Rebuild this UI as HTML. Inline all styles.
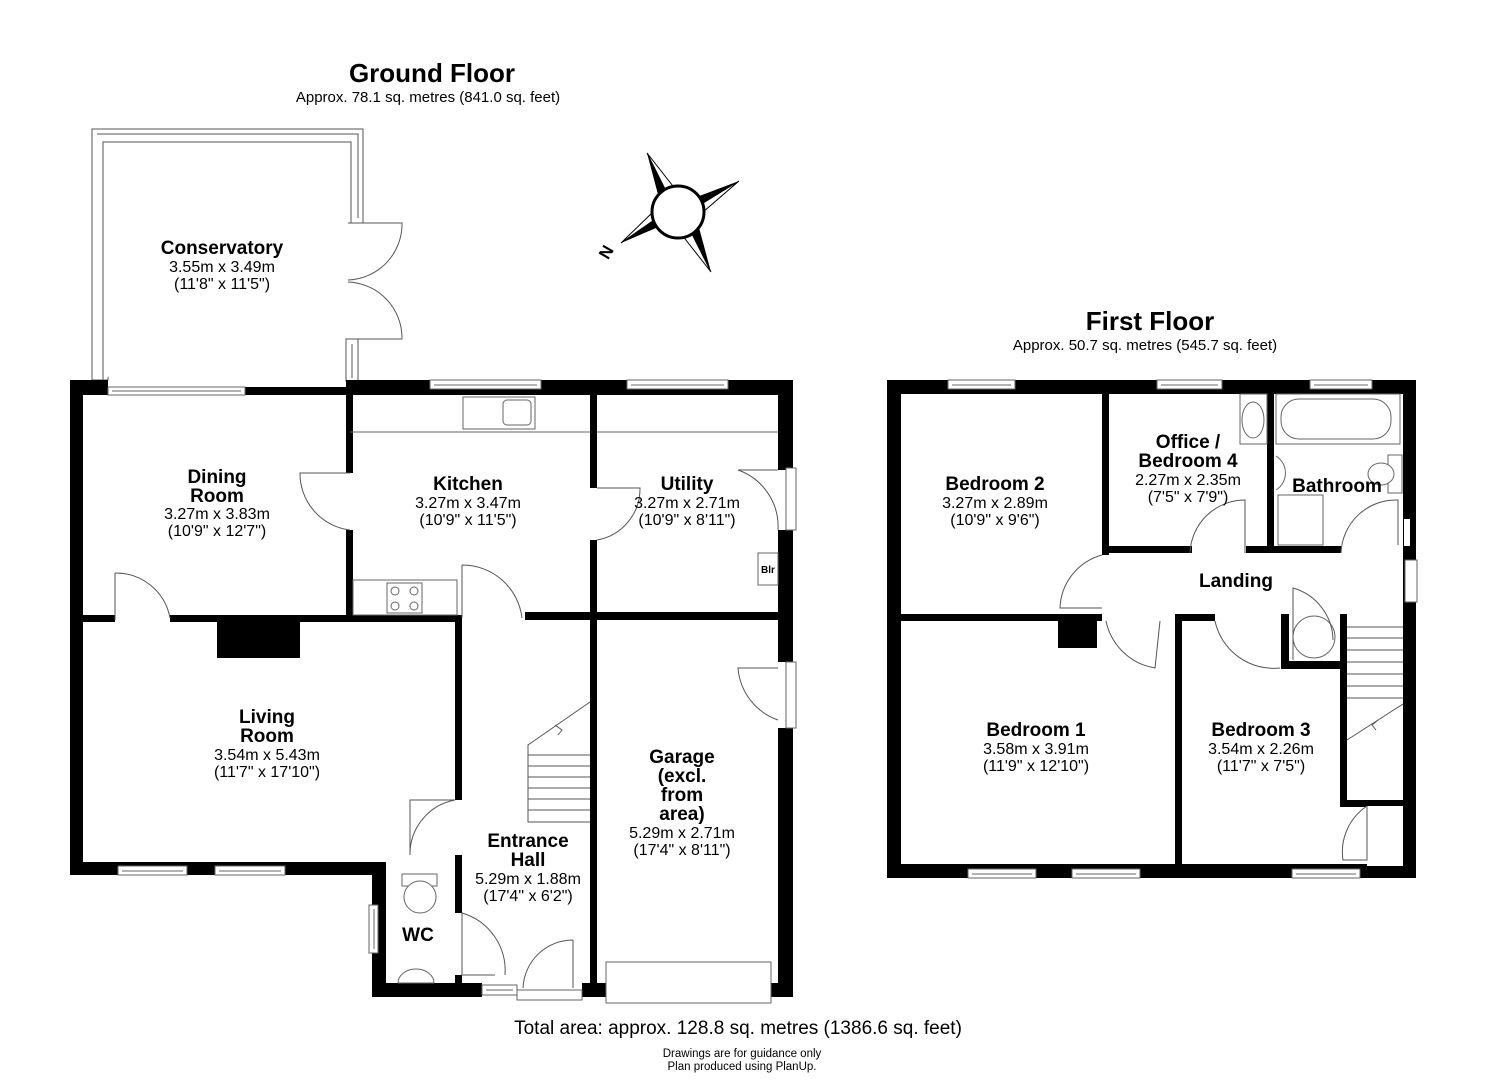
<!DOCTYPE html>
<html><head><meta charset="utf-8"><style>
html,body{margin:0;padding:0;background:#fff;}
svg{display:block;font-family:"Liberation Sans",Arial,sans-serif;}
.b{font-weight:bold;font-size:19px;}
.d{font-size:16px;}
.t{font-weight:bold;font-size:26px;}
.s{font-size:15px;}
</style></head><body>
<svg width="1485" height="1080" viewBox="0 0 1485 1080" xmlns="http://www.w3.org/2000/svg">
<rect width="1485" height="1080" fill="#fff"/>
<g text-anchor="middle" fill="#000">
<text x="432" y="82" class="t">Ground Floor</text>
<text x="428" y="102" class="s">Approx. 78.1 sq. metres (841.0 sq. feet)</text>
<text x="1150" y="330" class="t">First Floor</text>
<text x="1145" y="350" class="s">Approx. 50.7 sq. metres (545.7 sq. feet)</text>
<text x="738" y="1034" font-size="19">Total area: approx. 128.8 sq. metres (1386.6 sq. feet)</text>
<text x="742" y="1057" font-size="11.5">Drawings are for guidance only</text>
<text x="742" y="1070" font-size="11.5">Plan produced using PlanUp.</text>
</g>

<!-- Conservatory frame -->
<g fill="#fff" stroke="#555" stroke-width="1">
<path d="M92,129 L363,129 L363,223 L346,223 L346,147 L108,147 L108,380 L92,380 Z"/>
<path d="M97,134 L358,134 L358,218 M103,380 L103,142 L351,142 L351,223"/>
<rect x="346" y="339" width="12" height="42"/>
<line x1="352" y1="344" x2="352" y2="378"/>
</g>
<g fill="none" stroke="#555" stroke-width="1">
<path d="M348,223 L402,223 A56,56 0 0 1 348,280"/>
<path d="M348,339 L402,339 A56,56 0 0 0 348,282"/>
</g>

<!-- Compass -->
<g>
<polygon points="647,153 668,195 660,202" fill="#000"/>
<polygon points="647,153 668,195 676,190" fill="#fff" stroke="#000"/>
<polygon points="739,181 700,205 694,198" fill="#000"/>
<polygon points="739,181 700,205 703,212" fill="#fff" stroke="#000"/>
<polygon points="711,272 690,230 698,224" fill="#000"/>
<polygon points="711,272 690,230 682,235" fill="#fff" stroke="#000"/>
<polygon points="621,243 657,218 663,225" fill="#000"/>
<polygon points="621,243 657,218 654,211" fill="#fff" stroke="#000"/>
<circle cx="678" cy="212" r="26" fill="#fff" stroke="#000" stroke-width="3"/>
<text x="606" y="258" font-size="17" font-weight="bold" transform="rotate(-60 606 252)" text-anchor="middle">N</text>
</g>

<!-- Ground floor walls -->
<g fill="#000">
<rect x="70" y="380" width="38" height="15"/>
<rect x="245" y="387" width="103" height="8"/>
<rect x="346" y="380" width="447" height="15"/>
<rect x="70" y="380" width="13" height="495"/>
<rect x="778" y="380" width="15" height="90"/>
<rect x="778" y="530" width="15" height="132"/>
<rect x="778" y="728" width="15" height="269"/>
<rect x="70" y="862" width="316" height="13"/>
<rect x="372" y="862" width="14" height="135"/>
<rect x="372" y="983" width="110" height="14"/>
<rect x="582" y="983" width="24" height="14"/>
<rect x="771" y="983" width="22" height="14"/>
<rect x="346" y="393" width="7" height="80"/>
<rect x="346" y="530" width="7" height="90"/>
<rect x="590" y="393" width="7" height="95"/>
<rect x="590" y="540" width="7" height="457"/>
<rect x="82" y="615" width="33" height="7"/>
<rect x="170" y="615" width="292" height="7"/>
<rect x="525" y="612" width="268" height="8"/>
<rect x="455" y="620" width="7" height="180"/>
<rect x="455" y="855" width="7" height="58"/>
<rect x="455" y="975" width="7" height="10"/>
<rect x="217" y="620" width="83" height="38"/>
</g>
<g fill="#fff" stroke="#666" stroke-width="1">
<rect x="108" y="387" width="137" height="8"/><line x1="112" y1="391" x2="241" y2="391"/>
<rect x="430" y="380" width="111" height="9"/><line x1="434" y1="385" x2="537" y2="385"/>
<rect x="627" y="380" width="101" height="9"/><line x1="631" y1="385" x2="724" y2="385"/>
<rect x="118" y="866" width="69" height="9"/><line x1="122" y1="871" x2="183" y2="871"/>
<rect x="215" y="866" width="70" height="9"/><line x1="219" y1="871" x2="281" y2="871"/>
<rect x="369" y="905" width="9" height="48"/><line x1="374" y1="909" x2="374" y2="949"/>
<rect x="482" y="985" width="35" height="10"/><line x1="486" y1="990" x2="513" y2="990"/>
<rect x="786" y="468" width="10" height="62"/>
<rect x="786" y="662" width="10" height="66"/>
<rect x="517" y="990" width="65" height="10"/>
<rect x="606" y="962" width="165" height="41"/>
<rect x="463" y="397" width="72" height="32"/><rect x="503" y="400" width="28" height="25" rx="4"/>
<line x1="350" y1="432" x2="590" y2="432"/>
<line x1="597" y1="432" x2="778" y2="432"/>
<rect x="353" y="580" width="104" height="35"/><rect x="387" y="583" width="35" height="30"/>
<circle cx="395" cy="591" r="4"/><circle cx="414" cy="591" r="4"/><circle cx="395" cy="606" r="4"/><circle cx="414" cy="606" r="4"/>
<rect x="758" y="553" width="20" height="32"/>
<rect x="402" y="874" width="35" height="12"/><ellipse cx="420" cy="897" rx="16" ry="16"/>
<path d="M398,983 A18,14 0 0 1 434,983 Z"/>
</g>
<text x="768" y="573" font-size="10" text-anchor="middle" font-weight="bold">Blr</text>
<g fill="none" stroke="#555" stroke-width="1">
<path d="M350,473 L300,473 A57,57 0 0 0 350,530"/>
<path d="M597,488 L640,488 A52,52 0 0 1 597,540"/>
<path d="M115,573 L115,620 M115,573 A55,55 0 0 1 170,618"/>
<path d="M462,565 L462,618 M462,565 A60,60 0 0 1 522,618"/>
<path d="M778,470 L738,470 A60,60 0 0 1 778,530"/>
<path d="M778,668 L738,668 A60,60 0 0 0 778,720"/>
<path d="M455,800 L410,800 L410,855 M455,800 A55,55 0 0 0 410,855"/>
<path d="M462,913 L462,975 L495,975 M462,913 A60,60 0 0 1 505,975"/>
<path d="M573,940 L573,988 M573,940 A50,50 0 0 0 523,988"/>
<path d="M590,702 L528,745 L528,822 L590,822"/>
<path d="M528,755 L590,755 M528,766 L590,766 M528,777 L590,777 M528,788 L590,788 M528,799 L590,799 M528,810 L590,810"/>
<path d="M555,725 L562,730 L558,735"/>
</g>

<!-- First floor walls -->
<g fill="#000">
<rect x="887" y="380" width="529" height="14"/>
<rect x="887" y="380" width="14" height="498"/>
<rect x="887" y="864" width="529" height="14"/>
<rect x="1403" y="380" width="13" height="498"/>
<rect x="1102" y="393" width="7" height="162"/>
<rect x="1102" y="546" width="90" height="7"/>
<rect x="1246" y="546" width="95" height="7"/>
<rect x="1267" y="393" width="7" height="160"/>
<rect x="900" y="614" width="202" height="7"/>
<rect x="1175" y="614" width="7" height="252"/>
<rect x="1175" y="614" width="40" height="7"/>
<rect x="1281" y="614" width="8" height="55"/>
<rect x="1281" y="661" width="60" height="8"/>
<rect x="1340" y="614" width="7" height="192"/>
<rect x="1340" y="800" width="65" height="7"/>
<rect x="1058" y="621" width="39" height="27"/>
</g>
<g fill="#fff" stroke="#666" stroke-width="1">
<rect x="948" y="380" width="67" height="9"/><line x1="952" y1="385" x2="1011" y2="385"/>
<rect x="1157" y="380" width="65" height="9"/><line x1="1161" y1="385" x2="1218" y2="385"/>
<rect x="1310" y="380" width="62" height="9"/><line x1="1314" y1="385" x2="1368" y2="385"/>
<rect x="968" y="869" width="68" height="9"/><line x1="972" y1="874" x2="1032" y2="874"/>
<rect x="1072" y="869" width="68" height="9"/><line x1="1076" y1="874" x2="1136" y2="874"/>
<rect x="1292" y="869" width="68" height="9"/><line x1="1296" y1="874" x2="1356" y2="874"/>
<rect x="1405" y="560" width="12" height="42"/>
<rect x="1367" y="806" width="36" height="60" stroke="none"/>
<rect x="1404" y="519" width="6" height="27" stroke="none"/>
<rect x="1276" y="394" width="124" height="50"/><rect x="1281" y="399" width="110" height="40" rx="18"/>
<rect x="1240" y="394" width="27" height="50"/><ellipse cx="1253" cy="420" rx="11" ry="18"/>
<path d="M1276,456 A20,20 0 0 1 1276,490"/>
<rect x="1388" y="455" width="14" height="38"/><ellipse cx="1381" cy="474" rx="13" ry="11"/>
<rect x="1278" y="495" width="45" height="50"/>
<circle cx="1314" cy="637" r="21"/>
</g>
<g fill="none" stroke="#555" stroke-width="1">
<path d="M1102,555 A57,57 0 0 0 1060,608 L1102,608"/>
<path d="M1106,621 A60,60 0 0 0 1155,668 L1160,621"/>
<path d="M1190,553 A55,55 0 0 1 1245,500 L1245,553"/>
<path d="M1341,553 A55,55 0 0 1 1398,500 L1398,545"/>
<path d="M1215,621 A60,60 0 0 0 1280,668"/>
<path d="M1293,660 L1293,588 A55,55 0 0 1 1333,640"/>
<path d="M1367,806 L1367,860 L1343,860 A55,55 0 0 1 1367,806"/>
<path d="M1347,740 L1403,704 M1347,627 L1403,627 M1347,638 L1403,638 M1347,650 L1403,650 M1347,662 L1403,662 M1347,674 L1403,674 M1347,686 L1403,686 M1347,698 L1403,698"/>
<path d="M1378,720 L1372,725 L1376,730"/>
</g>

<g text-anchor="middle">
<text x="222" y="254" class="b">Conservatory</text>
<text x="222" y="272" class="d">3.55m x 3.49m</text>
<text x="222" y="289" class="d">(11'8" x 11'5")</text>
<text x="217" y="483" class="b">Dining</text>
<text x="217" y="502" class="b">Room</text>
<text x="217" y="519" class="d">3.27m x 3.83m</text>
<text x="217" y="536" class="d">(10'9" x 12'7")</text>
<text x="468" y="490" class="b">Kitchen</text>
<text x="468" y="508" class="d">3.27m x 3.47m</text>
<text x="468" y="525" class="d">(10'9" x 11'5")</text>
<text x="687" y="490" class="b">Utility</text>
<text x="687" y="508" class="d">3.27m x 2.71m</text>
<text x="687" y="525" class="d">(10'9" x 8'11")</text>
<text x="267" y="723" class="b">Living</text>
<text x="267" y="742" class="b">Room</text>
<text x="267" y="760" class="d">3.54m x 5.43m</text>
<text x="267" y="777" class="d">(11'7" x 17'10")</text>
<text x="682" y="763" class="b">Garage</text>
<text x="682" y="782" class="b">(excl.</text>
<text x="682" y="801" class="b">from</text>
<text x="682" y="820" class="b">area)</text>
<text x="682" y="838" class="d">5.29m x 2.71m</text>
<text x="682" y="855" class="d">(17'4" x 8'11")</text>
<text x="528" y="847" class="b">Entrance</text>
<text x="528" y="866" class="b">Hall</text>
<text x="528" y="884" class="d">5.29m x 1.88m</text>
<text x="528" y="901" class="d">(17'4" x 6'2")</text>
<text x="418" y="941" class="b">WC</text>
<text x="995" y="490" class="b">Bedroom 2</text>
<text x="995" y="508" class="d">3.27m x 2.89m</text>
<text x="995" y="525" class="d">(10'9" x 9'6")</text>
<text x="1188" y="448" class="b">Office /</text>
<text x="1188" y="467" class="b">Bedroom 4</text>
<text x="1188" y="485" class="d">2.27m x 2.35m</text>
<text x="1188" y="502" class="d">(7'5" x 7'9")</text>
<text x="1337" y="492" class="b">Bathroom</text>
<text x="1236" y="587" class="b">Landing</text>
<text x="1036" y="736" class="b">Bedroom 1</text>
<text x="1036" y="754" class="d">3.58m x 3.91m</text>
<text x="1036" y="771" class="d">(11'9" x 12'10")</text>
<text x="1261" y="736" class="b">Bedroom 3</text>
<text x="1261" y="754" class="d">3.54m x 2.26m</text>
<text x="1261" y="771" class="d">(11'7" x 7'5")</text>
</g>
</svg>
</body></html>
